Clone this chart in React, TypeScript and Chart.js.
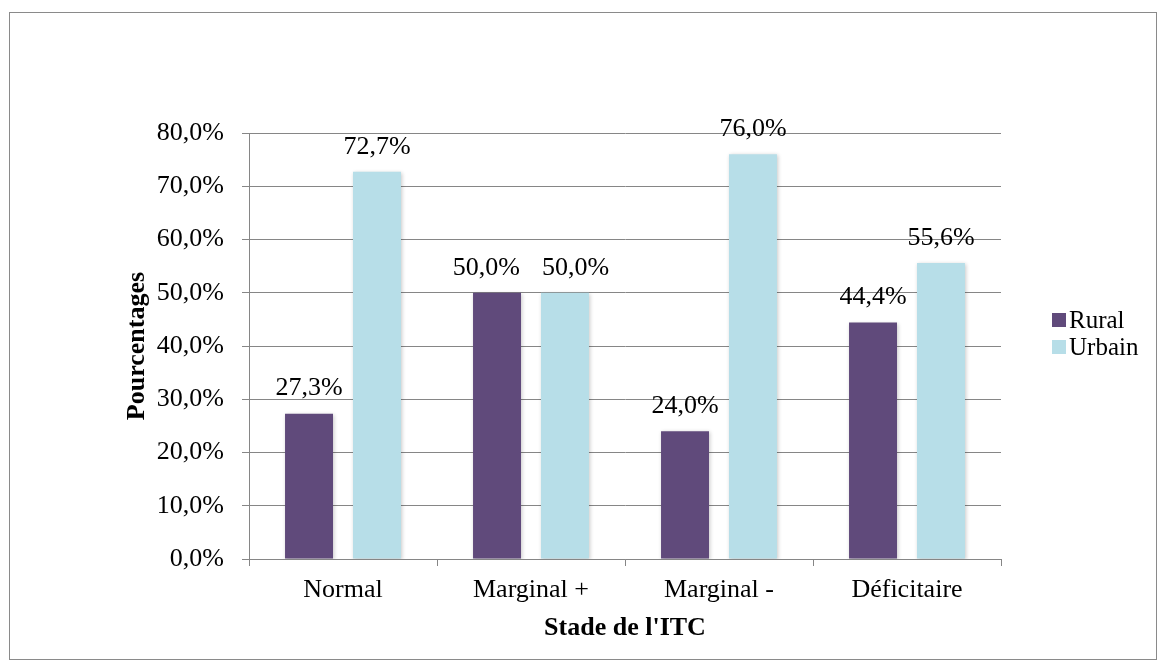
import React, { useEffect, useRef } from "react";
import { Chart, registerables } from "chart.js";

Chart.register(...registerables);

const categories = ["Normal", "Marginal +", "Marginal -", "Déficitaire"];
const ruralValues = [27.3, 50.0, 24.0, 44.4];
const urbainValues = [72.7, 50.0, 76.0, 55.6];
const seriesNames = ["Rural", "Urbain"];
const seriesColors = ["#604A7B", "#B7DEE8"];
const yTitle = "Pourcentages";
const xTitle = "Stade de l'ITC";

const FONT = "'Liberation Serif', 'Times New Roman', serif";
const FS = 26;
const W = 1159;
const H = 661;

const fmt = (v: number) => v.toFixed(1).replace(".", ",") + "%";

const decorPlugin = {
  id: "decor",
  beforeDatasetsDraw(chart: any) {
    const ctx = chart.ctx;
    ctx.save();
    ctx.shadowColor = "rgba(0,0,0,0.22)";
    ctx.shadowBlur = 4;
    ctx.shadowOffsetX = 1;
    ctx.shadowOffsetY = 1;
  },
  afterDatasetsDraw(chart: any) {
    const ctx = chart.ctx;
    ctx.restore();
    ctx.save();
    ctx.font = `${FS}px ${FONT}`;
    ctx.fillStyle = "#000";
    ctx.textAlign = "center";
    ctx.textBaseline = "middle";
    const n = chart.data.labels.length;
    for (let i = 0; i < n; i++) {
      const items: any[] = chart.data.datasets.map((ds: any, di: number) => {
        const bar: any = chart.getDatasetMeta(di).data[i];
        const text = fmt(ds.data[i]);
        return { text, x: bar.x, y: bar.y - 25, w: ctx.measureText(text).width };
      });
      // avoid overlapping labels within a category (like Excel)
      for (let k = 0; k + 1 < items.length; k++) {
        const a = items[k];
        const b = items[k + 1];
        if (Math.abs(a.y - b.y) < FS) {
          const need = (a.w + b.w) / 2 + 22;
          const dist = b.x - a.x;
          if (dist < need) {
            const d = (need - dist) / 2;
            a.x -= d;
            b.x += d;
          }
        }
      }
      items.forEach((it) => ctx.fillText(it.text, it.x, it.y));
    }
    ctx.restore();
  },
  afterDraw(chart: any) {
    const ctx = chart.ctx;
    const area = chart.chartArea;
    ctx.save();
    // outer border
    ctx.strokeStyle = "#8a8a8a";
    ctx.lineWidth = 1;
    ctx.strokeRect(9.5, 12.5, 1147, 647);
    // y title
    ctx.fillStyle = "#000";
    ctx.font = `bold 26px ${FONT}`;
    ctx.textAlign = "center";
    ctx.textBaseline = "middle";
    ctx.save();
    ctx.translate(137, (area.top + area.bottom) / 2);
    ctx.rotate(-Math.PI / 2);
    ctx.fillText(yTitle, 0, 0);
    ctx.restore();
    // x title
    ctx.fillText(xTitle, (area.left + area.right) / 2, 628);
    // legend
    ctx.font = `25px ${FONT}`;
    ctx.textAlign = "left";
    const ly = [320, 347];
    seriesNames.forEach((nm, i) => {
      ctx.fillStyle = seriesColors[i];
      ctx.fillRect(1052, ly[i] - 7, 14, 14);
      ctx.fillStyle = "#000";
      ctx.fillText(nm, 1069, ly[i] + 1);
    });
    ctx.restore();
  },
};

export default function App() {
  const ref = useRef<HTMLCanvasElement>(null);
  useEffect(() => {
    if (!ref.current) return;
    const chart = new Chart(ref.current, {
      type: "bar",
      data: {
        labels: categories,
        datasets: [
          {
            label: seriesNames[0],
            data: ruralValues,
            backgroundColor: seriesColors[0],
            categoryPercentage: 0.723,
            barPercentage: 0.706,
          },
          {
            label: seriesNames[1],
            data: urbainValues,
            backgroundColor: seriesColors[1],
            categoryPercentage: 0.723,
            barPercentage: 0.706,
          },
        ],
      },
      options: {
        animation: false,
        responsive: false,
        devicePixelRatio: 1,
        layout: { padding: { left: 149, right: 158, top: 133, bottom: 42 } },
        plugins: {
          legend: { display: false },
          tooltip: { enabled: false },
        },
        scales: {
          x: {
            offset: true,
            grid: {
              offset: true,
              drawOnChartArea: false,
              drawTicks: true,
              tickLength: 7,
              color: "#868686",
            },
            border: { color: "#868686", width: 1 },
            ticks: {
              color: "#000",
              font: { family: FONT, size: FS },
              padding: 9,
              maxRotation: 0,
            },
            afterFit: (s: any) => {
              s.height = 60;
            },
          },
          y: {
            min: 0,
            max: 80,
            ticks: {
              stepSize: 10,
              color: "#000",
              font: { family: FONT, size: FS },
              padding: 18,
              callback: (v: any) => fmt(Number(v)),
            },
            grid: { color: "#868686", tickLength: 7, lineWidth: 1 },
            border: { color: "#868686", width: 1 },
            afterFit: (s: any) => {
              s.width = 100;
            },
          },
        },
      },
      plugins: [decorPlugin],
    });
    return () => chart.destroy();
  }, []);
  return (
    <div style={{ position: "absolute", left: 0, top: 0, width: W, height: H, background: "#fff" }}>
      <canvas ref={ref} width={W} height={H} style={{ width: W, height: H, display: "block" }} />
    </div>
  );
}
